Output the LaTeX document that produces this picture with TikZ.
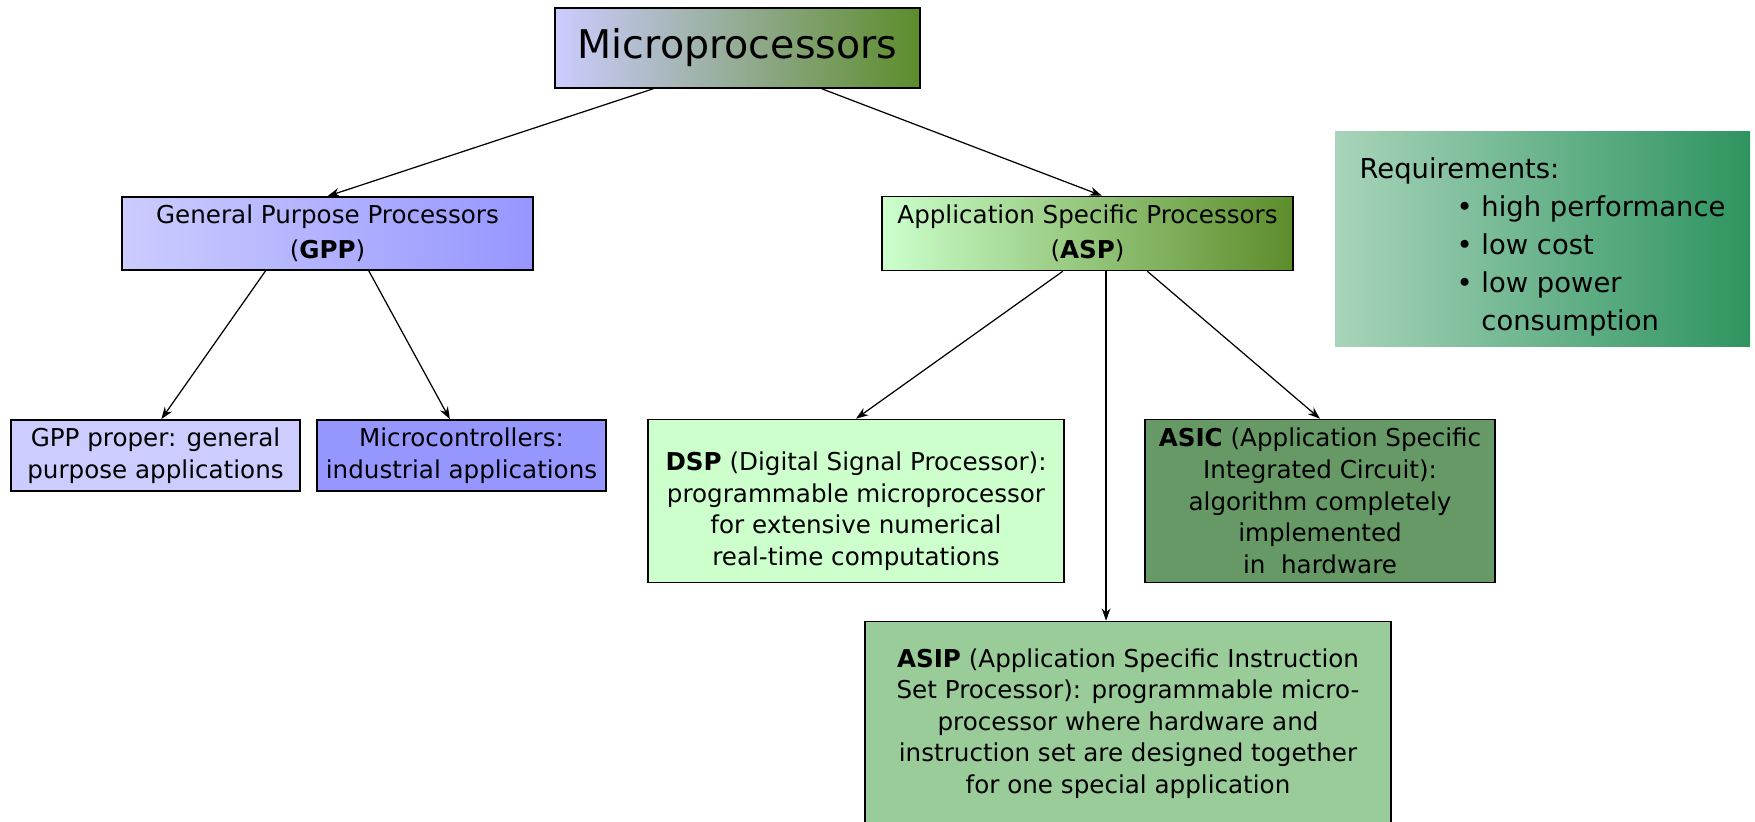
\documentclass[tikz,border=0pt]{standalone}
\usepackage{fontspec}
\setmainfont{DejaVu Sans}
\usepackage{xcolor}
\usetikzlibrary{arrows.meta, positioning, calc}

\definecolor{lilac}{RGB}{204,204,255}
\definecolor{violet2}{RGB}{150,150,255}
\definecolor{moss}{RGB}{92,140,42}
\definecolor{mint}{RGB}{204,255,204}
\definecolor{sage}{RGB}{153,204,153}
\definecolor{fern}{RGB}{102,153,102}
\definecolor{seafoam}{RGB}{168,212,186}
\definecolor{jade}{RGB}{46,148,96}

\begin{document}
\begin{tikzpicture}[
        node distance=3.71cm,
        every node/.style={rectangle, draw, line width=0.9pt, inner sep=4pt, align=center, font=\fontsize{14}{18}\selectfont},
        arrow/.style={line width=0.7pt, -{Stealth[length=7pt, width=5pt]}}
    ]
        \useasboundingbox (0,0) rectangle (35.1,-16.42);

        \node (root) at (14.75,-0.96) [minimum width=7.3cm, minimum height=1.6cm, left color=lilac, right color=moss, font=\fontsize{22.5}{26}\selectfont] {Microprocessors};
        \node (gpp) [below of=root, xshift=-8.2cm, minimum width=8.22cm, minimum height=1.46cm, left color=lilac, right color=violet2, font=\fontsize{14}{19.7}\selectfont] {General Purpose Processors\\(\textbf{GPP})};
        \node (asp) [below of=root, xshift=7cm, minimum width=8.22cm, minimum height=1.48cm, left color=mint, right color=moss, font=\fontsize{14}{19.7}\selectfont] {Application Specific Processors\\(\textbf{ASP})};
        \node (req) [below of=root, xshift=16.1cm, yshift=-0.11cm, draw=none, minimum width=8.3cm, minimum height=4.3cm, left color=seafoam, right color=jade, align=left, font=\fontsize{15.6}{21.6}\selectfont] {\rule{0pt}{0.72cm}Requirements:\\
            \hspace*{1.94cm}\textbullet\ high performance\\
            \hspace*{1.94cm}\textbullet\ low cost\\
            \hspace*{1.94cm}\textbullet\ low power\\
            \hspace*{1.94cm}\phantom{\textbullet\ }consumption};

        \node (proper) [below of=gpp, node distance=4.44cm, xshift=-3.44cm, minimum width=5.78cm, minimum height=1.42cm, fill=lilac] {GPP proper: general\\purpose applications};
        \node (mcu) [below of=gpp, node distance=4.44cm, xshift=2.68cm, minimum width=5.78cm, minimum height=1.42cm, fill=violet2] {Microcontrollers:\\industrial applications};

        \node (dsp) [below of=asp, node distance=5.35cm, xshift=-4.63cm, minimum width=8.32cm, minimum height=3.26cm, fill=mint] {\rule{0pt}{0.78cm}\textbf{DSP} (Digital Signal Processor):\\programmable microprocessor\\for extensive numerical\\real-time computations};
        \node (asic) [below of=asp, node distance=5.35cm, xshift=4.65cm, minimum width=7cm, minimum height=3.26cm, fill=fern] {\textbf{ASIC} (Application Specific\\Integrated Circuit):\\algorithm completely\\implemented\\in\ \ hardware};
        \node (asip) [below of=asp, node distance=9.8cm, xshift=0.81cm, minimum width=10.52cm, minimum height=4.08cm, fill=sage] {\textbf{ASIP} (Application Specific Instruction\\Set Processor): programmable micro-\\processor where hardware and\\instruction set are designed together\\for one special application};

        \draw [arrow] ($(root.south west)!0.27!(root.south east)$) -- (gpp.north);
        \draw [arrow] ($(root.south west)!0.73!(root.south east)$) -- ($(asp.north west)!0.535!(asp.north east)$);
        \draw [arrow] ($(gpp.south west)!0.35!(gpp.south east)$) -- ($(proper.north west)!0.52!(proper.north east)$);
        \draw [arrow] ($(gpp.south west)!0.6!(gpp.south east)$) -- ($(mcu.north west)!0.46!(mcu.north east)$);
        \draw [arrow] ($(asp.south west)!0.44!(asp.south east)$) -- (dsp.north);
        \draw [arrow] ($(asp.south west)!0.545!(asp.south east)$) coordinate (aspmid) -- (aspmid |- asip.north);
        \draw [arrow] ($(asp.south west)!0.645!(asp.south east)$) -- (asic.north);
    \end{tikzpicture}
\end{document}
